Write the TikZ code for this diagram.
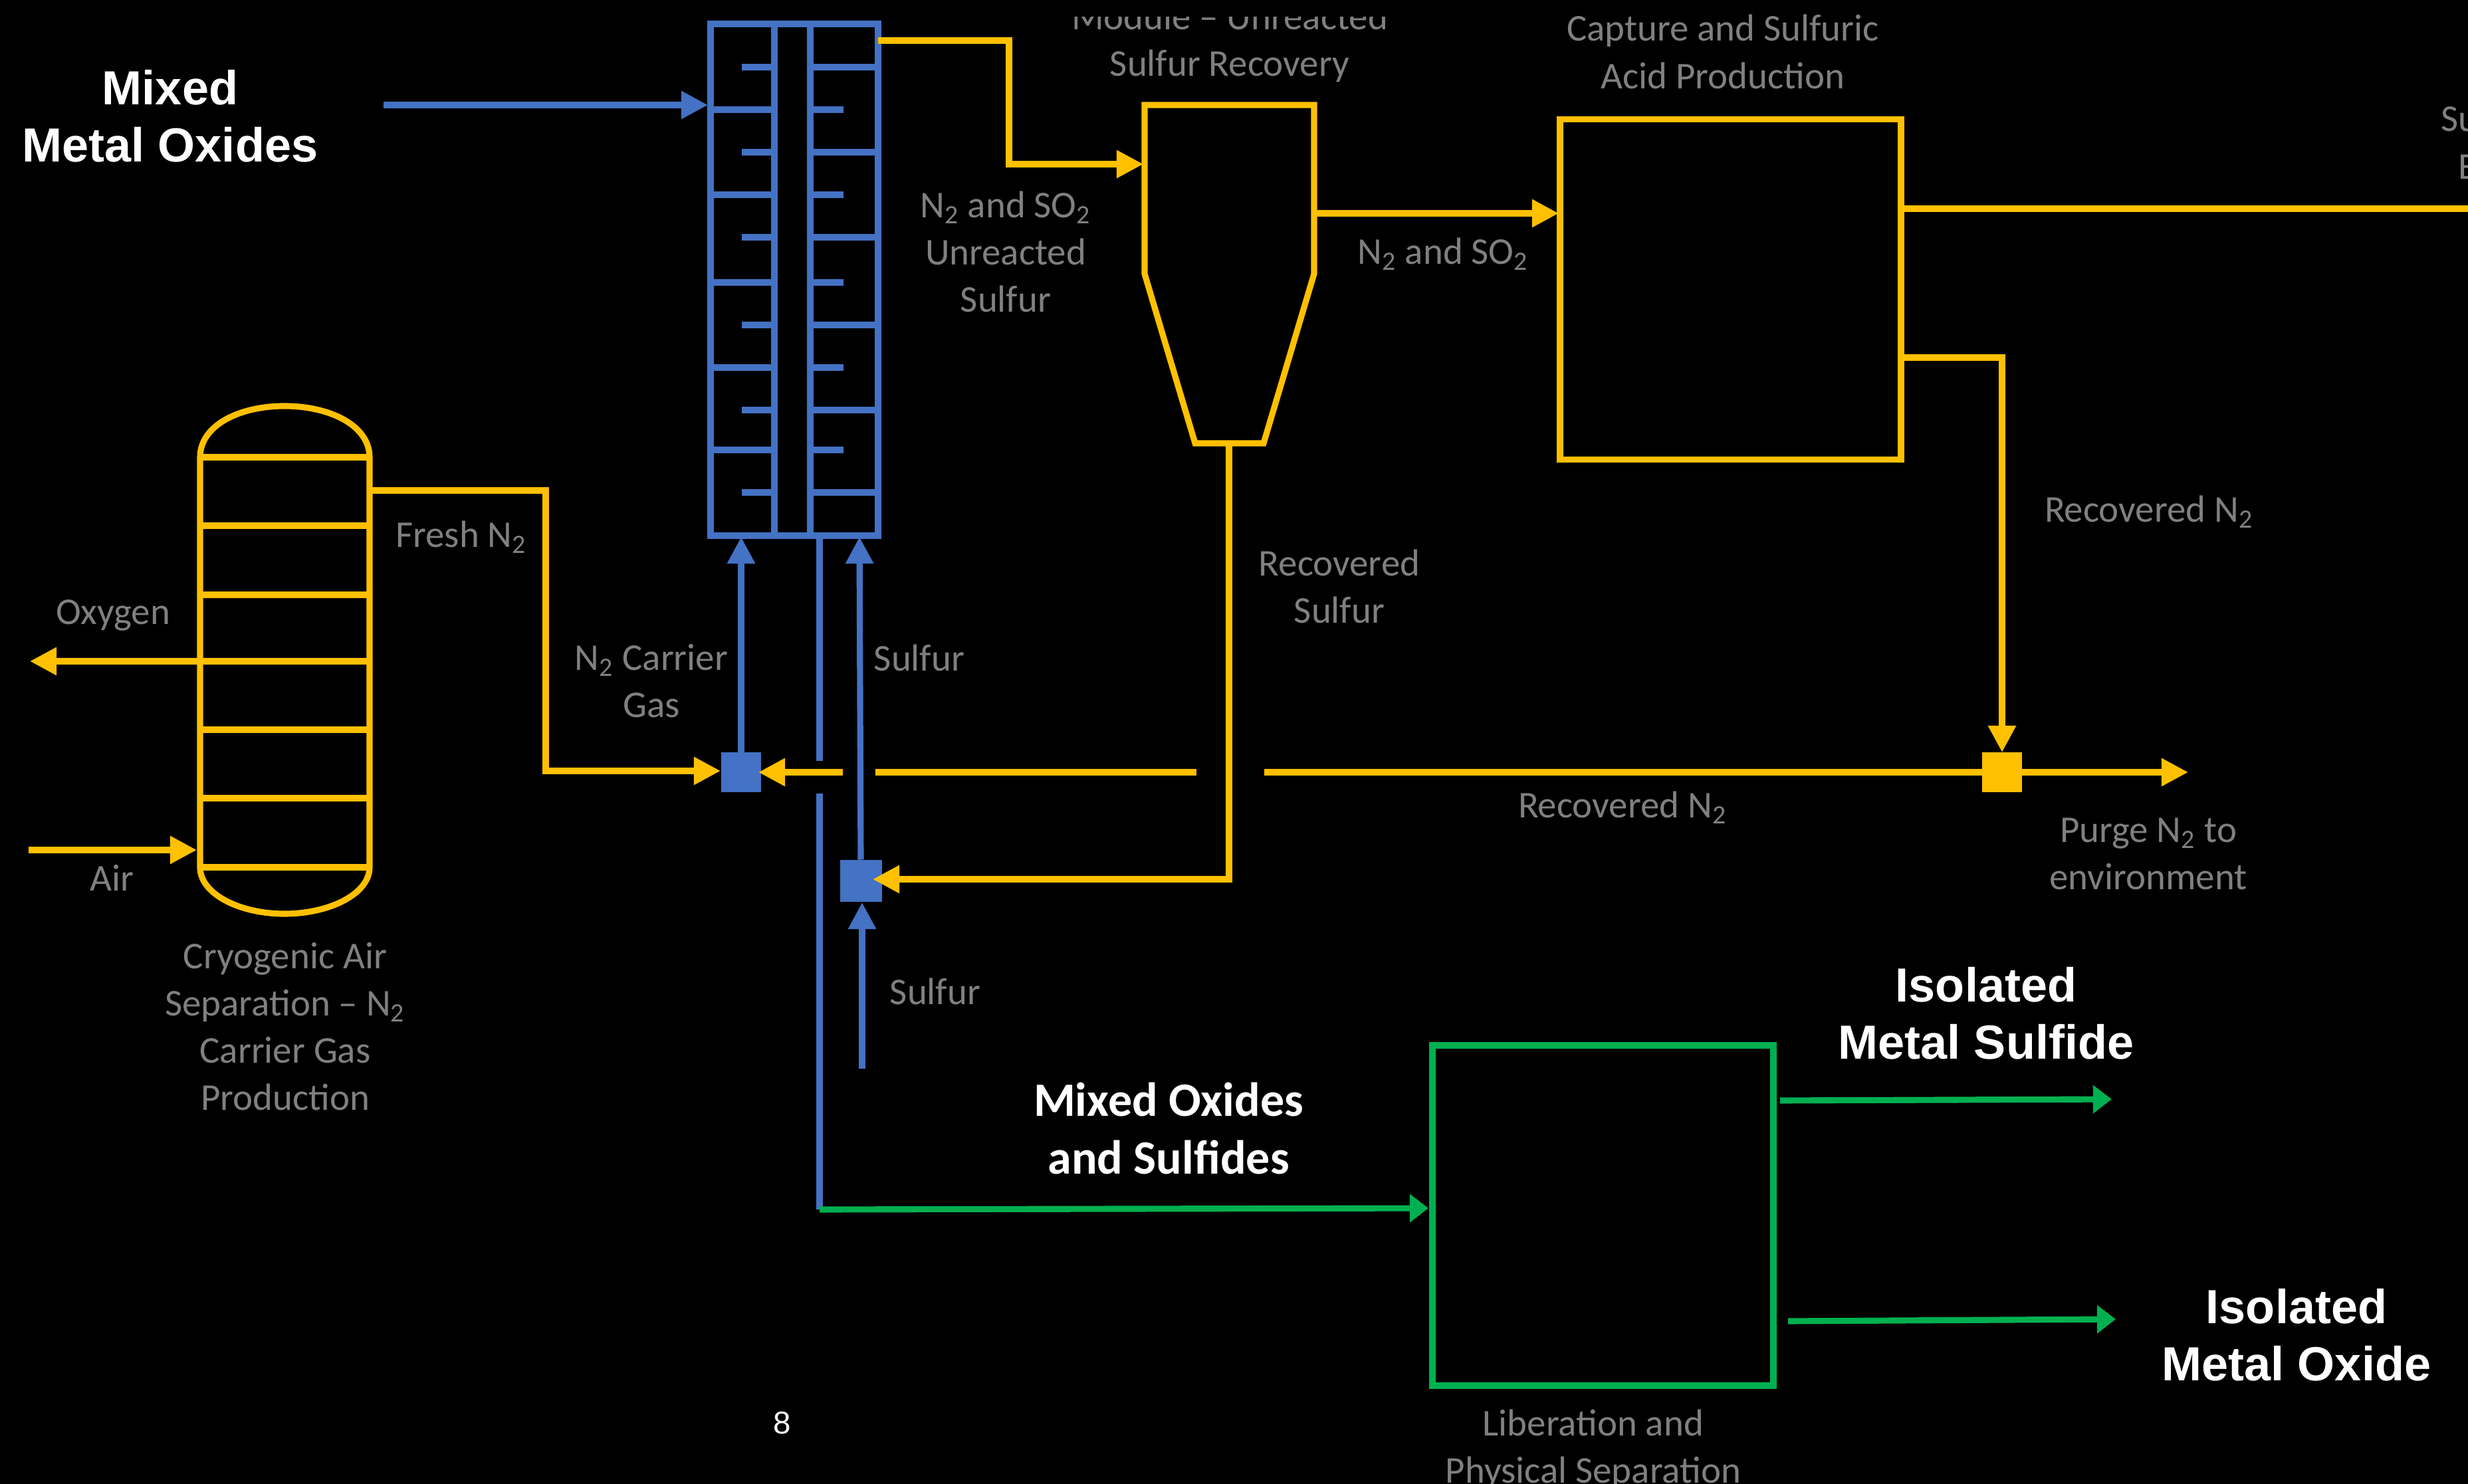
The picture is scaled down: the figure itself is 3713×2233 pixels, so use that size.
\documentclass[tikz,border=0pt]{standalone}
\usepackage{fontspec}
\setmainfont{Carlito}
\newfontfamily\headfont{Liberation Sans}
\usetikzlibrary{arrows.meta}
\definecolor{oro}{HTML}{FFC000}
\definecolor{azul}{HTML}{4472C4}
\definecolor{verde}{HTML}{00B050}
\definecolor{gris}{HTML}{808080}
\tikzset{
	yline/.style={draw=oro, line width=2.6pt},
	bline/.style={draw=azul, line width=2.6pt},
	gline/.style={draw=verde, line width=2.6pt},
	ytip/.style={-{Triangle[length=11.4pt,width=11.4pt]}},
	btip/.style={-{Triangle[length=11.4pt,width=11.4pt]}},
	gtip/.style={-{Triangle[length=8pt,width=11.7pt]}},
	etiqueta/.style={text=gris, align=center, inner sep=0pt, font=\fontsize{16.2}{20.2}\selectfont},
	titulo/.style={text=white, align=center, inner sep=0pt, font=\headfont\bfseries\fontsize{20.5}{24.5}\selectfont},
	titulob/.style={text=white, align=center, inner sep=0pt, font=\bfseries\fontsize{20.5}{24.5}\selectfont},
	caja/.style={rectangle, outer sep=0pt, inner sep=0pt, minimum width=51.3mm, minimum height=51.2mm},
	mezcla/.style={rectangle, outer sep=0pt, inner sep=0pt, fill=azul, minimum size=#1}
}
\begin{document}
\begin{tikzpicture}[x=0.1mm, y=-0.1mm]

\useasboundingbox (0,0) rectangle (3713,2233);
\fill[black] (0,0) rectangle (3713,2233);

% Columna criogenica
\draw[yline] (301,688) .. controls (301,640) and (360,611) .. (428,611)
	.. controls (496,611) and (556,640) .. (556,688) -- (556,1305)
	.. controls (556,1345) and (496,1375) .. (428,1375)
	.. controls (360,1375) and (301,1345) .. (301,1305) -- cycle;
\foreach \y in {688, 791, 895, 995, 1098, 1201, 1305}
	\draw[yline] (301,\y) -- (556,\y);

% Reactor
\node[rectangle, outer sep=0pt, minimum width=25.2mm, minimum height=77mm, bline] (reactor) at (1195,421) {};
\draw[bline] (1165,36) -- (1165,806);
\draw[bline] (1219,36) -- (1219,806);
\foreach \y in {101, 229, 357, 489, 617, 741} {
	\draw[bline] (1116,\y) -- (1165,\y);
	\draw[bline] (1219,\y) -- (1321,\y);
}
\foreach \y in {165, 293, 425, 553, 677} {
	\draw[bline] (1069,\y) -- (1165,\y);
	\draw[bline] (1219,\y) -- (1269,\y);
}

% Ciclon y cajas
\draw[yline] (1722,158) -- (1977,158) -- (1977,412) -- (1901,667) -- (1798,667) -- (1722,412) -- cycle;
\node[caja, yline] (captura) at (2603.5,435.5) {};
\node[caja, gline] (separa) at (2411.5,1829) {};

% Mezcladores
\node[mezcla=6mm] (m1) at (1115,1162) {};
\node[mezcla=6.3mm] (m2) at (1295,1325) {};
\node[rectangle, outer sep=0pt, fill=oro, minimum size=6mm] (m3) at (3012,1162) {};

% Extremos libres
\coordinate (oxin) at (577,158);
\coordinate (oxout) at (1065,158);
\coordinate (n2a) at (1321,61);
\coordinate (n2b) at (1518,61);
\coordinate (n2c) at (1518,247);
\coordinate (n2d) at (1720,247);
\coordinate (cicout) at (1977,321);
\coordinate (capin) at (2345,321);
\coordinate (capout) at (2860,314);
\coordinate (borde) at (3713,314);
\coordinate (recA) at (2860,538);
\coordinate (recB) at (3012,538);
\coordinate (fresA) at (556,738);
\coordinate (fresB) at (821,738);
\coordinate (fresC) at (821,1160);
\coordinate (fresD) at (1084,1160);
\coordinate (oxigA) at (301,995);
\coordinate (oxigB) at (45,995);
\coordinate (aireA) at (43,1279);
\coordinate (aireB) at (296,1279);
\coordinate (rA) at (1268,1162);
\coordinate (rB) at (1141,1162);
\coordinate (rC) at (1800,1162);
\coordinate (rD) at (1317,1162);
\coordinate (rE) at (1902,1162);
\coordinate (purga) at (3292,1162);
\coordinate (cicfin) at (1849,667);
\coordinate (azA) at (1849,1323);
\coordinate (azB) at (1313,1323);
\coordinate (r1) at (1115,808);
\coordinate (r2) at (1293,808);
\coordinate (s1) at (1297,1608);
\coordinate (s2) at (1297,1358);
\coordinate (t1) at (1233,806);
\coordinate (t2) at (1233,1145);
\coordinate (t3) at (1233,1194);
\coordinate (t4) at (1233,1820);
\coordinate (sepin) at (2149,1818);
\coordinate (v1a) at (2678,1656);
\coordinate (v1b) at (3177,1654);
\coordinate (v2a) at (2690,1988);
\coordinate (v2b) at (3183,1985);

% Conexiones
\draw[bline, btip] (oxin) -- (oxout);
\draw[yline, ytip] (n2a) -- (n2b) -- (n2c) -- (n2d);
\draw[yline, ytip] (cicout) -- (capin);
\draw[yline] (capout) -- (borde);
\draw[yline, ytip] (recA) -- (recB) -- (m3.north);
\draw[yline, ytip] (fresA) -- (fresB) -- (fresC) -- (fresD);
\draw[yline, ytip] (oxigA) -- (oxigB);
\draw[yline, ytip] (aireA) -- (aireB);
\draw[yline, ytip] (rA) -- (rB);
\draw[yline] (rD) -- (rC);
\draw[yline, ytip] (rE) -- (purga);
\draw[yline, ytip] (cicfin) -- (azA) -- (azB);
\draw[bline, btip] (m1.north) -- (r1);
\draw[bline, btip] (m2.north) -- (r2);
\draw[bline, btip] (s1) -- (s2);
\draw[bline] (t1) -- (t2);
\draw[bline] (t3) -- (t4);
\draw[gline, gtip] (t4) -- (sepin);
\draw[gline, gtip] (v1a) -- (v1b);
\draw[gline, gtip] (v2a) -- (v2b);

% Etiquetas
\node[etiqueta, anchor=base] (modulo) at (1850,45) {Module -- Unreacted};
\node[etiqueta, anchor=base] (recupera) at (1850,115) {Sulfur Recovery};
\fill[black] (0,0) rectangle (3713,25);
\node[etiqueta, anchor=base] (cap1) at (2592,62) {Capture and Sulfuric};
\node[etiqueta, anchor=base] (cap2) at (2592,134) {Acid Production};
\node[etiqueta, anchor=base west] (su) at (3672,198) {Su};
\node[etiqueta, anchor=base west] (ee) at (3698,270) {E};
\node[etiqueta] (lab1) at (1513,379) {N\textsubscript{2} and SO\textsubscript{2}\\Unreacted\\Sulfur};
\node[etiqueta] (lab2) at (2171,382) {N\textsubscript{2} and SO\textsubscript{2}};
\node[etiqueta] (lab3) at (3233,770) {Recovered N\textsubscript{2}};
\node[etiqueta] (lab4) at (2015,882) {Recovered\\Sulfur};
\node[etiqueta] (lab5) at (2441,1215) {Recovered N\textsubscript{2}};
\node[etiqueta] (lab6) at (3232,1285) {Purge N\textsubscript{2} to\\environment};
\node[etiqueta] (lab7) at (694,808) {Fresh N\textsubscript{2}};
\node[etiqueta] (lab8) at (980,1025) {N\textsubscript{2} Carrier\\Gas};
\node[etiqueta] (lab9) at (1383,990) {Sulfur};
\node[etiqueta] (lab10) at (1407,1492) {Sulfur};
\node[etiqueta] (lab11) at (170,926) {Oxygen};
\node[etiqueta] (lab12) at (168,1321) {Air};
\node[etiqueta] (lab13) at (429,1545) {Cryogenic Air\\Separation -- N\textsubscript{2}\\Carrier Gas\\Production};
\node[etiqueta, anchor=base] (lib1) at (2397,2160) {Liberation and};
\node[etiqueta, anchor=base] (lib2) at (2397,2231) {Physical Separation};

\node[titulo] (mmo) at (256,175) {Mixed\\Metal Oxides};
\node[titulob] (mos) at (1758,1698) {Mixed Oxides\\and Sulfides};
\node[titulo] (ims) at (2988,1525) {Isolated\\Metal Sulfide};
\node[titulo] (imo) at (3455,2009) {Isolated\\Metal Oxide};
\node[text=white, inner sep=0pt, font=\headfont\fontsize{13.5}{16}\selectfont] (pag) at (1177,2141) {8};

\end{tikzpicture}
\end{document}
